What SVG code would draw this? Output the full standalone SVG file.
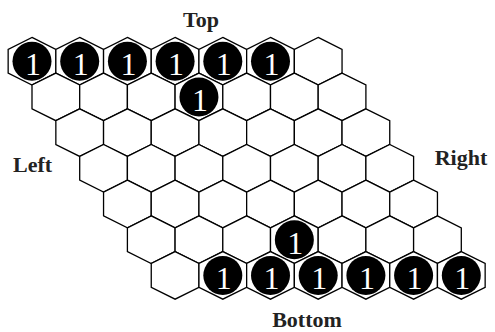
<svg xmlns="http://www.w3.org/2000/svg" xmlns:xlink="http://www.w3.org/1999/xlink" width="495" height="332" viewBox="0 0 495 332">
<style>
.hex{fill:#fff;stroke:#000;stroke-width:1.3;stroke-linejoin:miter}
.stone{fill:#000}
.num{fill:#fff;font-family:"Liberation Serif","Times New Roman",serif;font-size:32px;text-anchor:middle}
.lbl{fill:#222;font-family:"Liberation Serif","Times New Roman",serif;font-size:22px;font-weight:bold;text-anchor:middle}
</style>
<defs>
<polygon id="h" class="hex" points="0,-23.8 23.85,-11.9 23.85,11.9 0,23.8 -23.85,11.9 -23.85,-11.9"/>
<g id="s"><circle class="stone" r="19.5"/><text class="num" x="1" y="14">1</text></g>
</defs>
<rect width="495" height="332" fill="#fff"/>
<g id="board">
<g id="c00" transform="translate(32,61.2)"><use href="#h"/><use href="#s"/></g>
<g id="c01" transform="translate(79.7,61.2)"><use href="#h"/><use href="#s"/></g>
<g id="c02" transform="translate(127.4,61.2)"><use href="#h"/><use href="#s"/></g>
<g id="c03" transform="translate(175.1,61.2)"><use href="#h"/><use href="#s"/></g>
<g id="c04" transform="translate(222.8,61.2)"><use href="#h"/><use href="#s"/></g>
<g id="c05" transform="translate(270.5,61.2)"><use href="#h"/><use href="#s"/></g>
<g id="c06" transform="translate(318.2,61.2)"><use href="#h"/></g>

<g id="c10" transform="translate(55.85,96.9)"><use href="#h"/></g>
<g id="c11" transform="translate(103.55,96.9)"><use href="#h"/></g>
<g id="c12" transform="translate(151.25,96.9)"><use href="#h"/></g>
<g id="c13" transform="translate(198.95,96.9)"><use href="#h"/><use href="#s"/></g>
<g id="c14" transform="translate(246.65,96.9)"><use href="#h"/></g>
<g id="c15" transform="translate(294.35,96.9)"><use href="#h"/></g>
<g id="c16" transform="translate(342.05,96.9)"><use href="#h"/></g>

<g id="c20" transform="translate(79.7,132.6)"><use href="#h"/></g>
<g id="c21" transform="translate(127.4,132.6)"><use href="#h"/></g>
<g id="c22" transform="translate(175.1,132.6)"><use href="#h"/></g>
<g id="c23" transform="translate(222.8,132.6)"><use href="#h"/></g>
<g id="c24" transform="translate(270.5,132.6)"><use href="#h"/></g>
<g id="c25" transform="translate(318.2,132.6)"><use href="#h"/></g>
<g id="c26" transform="translate(365.9,132.6)"><use href="#h"/></g>

<g id="c30" transform="translate(103.55,168.3)"><use href="#h"/></g>
<g id="c31" transform="translate(151.25,168.3)"><use href="#h"/></g>
<g id="c32" transform="translate(198.95,168.3)"><use href="#h"/></g>
<g id="c33" transform="translate(246.65,168.3)"><use href="#h"/></g>
<g id="c34" transform="translate(294.35,168.3)"><use href="#h"/></g>
<g id="c35" transform="translate(342.05,168.3)"><use href="#h"/></g>
<g id="c36" transform="translate(389.75,168.3)"><use href="#h"/></g>

<g id="c40" transform="translate(127.4,204)"><use href="#h"/></g>
<g id="c41" transform="translate(175.1,204)"><use href="#h"/></g>
<g id="c42" transform="translate(222.8,204)"><use href="#h"/></g>
<g id="c43" transform="translate(270.5,204)"><use href="#h"/></g>
<g id="c44" transform="translate(318.2,204)"><use href="#h"/></g>
<g id="c45" transform="translate(365.9,204)"><use href="#h"/></g>
<g id="c46" transform="translate(413.6,204)"><use href="#h"/></g>

<g id="c50" transform="translate(151.25,239.7)"><use href="#h"/></g>
<g id="c51" transform="translate(198.95,239.7)"><use href="#h"/></g>
<g id="c52" transform="translate(246.65,239.7)"><use href="#h"/></g>
<g id="c53" transform="translate(294.35,239.7)"><use href="#h"/><use href="#s"/></g>
<g id="c54" transform="translate(342.05,239.7)"><use href="#h"/></g>
<g id="c55" transform="translate(389.75,239.7)"><use href="#h"/></g>
<g id="c56" transform="translate(437.45,239.7)"><use href="#h"/></g>

<g id="c60" transform="translate(175.1,275.4)"><use href="#h"/></g>
<g id="c61" transform="translate(222.8,275.4)"><use href="#h"/><use href="#s"/></g>
<g id="c62" transform="translate(270.5,275.4)"><use href="#h"/><use href="#s"/></g>
<g id="c63" transform="translate(318.2,275.4)"><use href="#h"/><use href="#s"/></g>
<g id="c64" transform="translate(365.9,275.4)"><use href="#h"/><use href="#s"/></g>
<g id="c65" transform="translate(413.6,275.4)"><use href="#h"/><use href="#s"/></g>
<g id="c66" transform="translate(461.3,275.4)"><use href="#h"/><use href="#s"/></g>
</g>
<g id="labels">
<text class="lbl" x="201" y="26.5">Top</text>
<text class="lbl" x="32.5" y="171.5">Left</text>
<text class="lbl" x="461" y="165">Right</text>
<text class="lbl" x="307" y="326.5">Bottom</text>
</g>
</svg>
